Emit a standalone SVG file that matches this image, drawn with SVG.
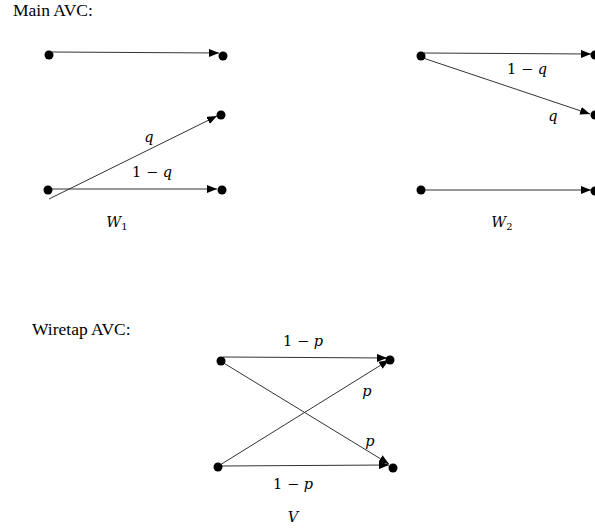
<svg xmlns="http://www.w3.org/2000/svg" width="595" height="531" viewBox="0 0 595 531">
<style>
.title{font-family:"Liberation Serif",serif;font-size:17.5px;fill:#000}
.m{font-family:"DejaVu Serif","Liberation Serif",serif;font-style:italic;font-size:14.5px;fill:#000;text-anchor:middle}
.mu{font-family:"DejaVu Serif","Liberation Serif",serif;font-size:14.5px;fill:#000;text-anchor:middle}
.e{stroke:#333;stroke-width:1;fill:none;marker-end:url(#ah)}
.d{fill:#000}
</style>
<defs>
<marker id="ah" viewBox="0 0 10 8" refX="10" refY="4" markerWidth="10" markerHeight="8" markerUnits="userSpaceOnUse" orient="auto">
<path d="M0,0 L10,4 L0,8 Z" fill="#000"/>
</marker>
</defs>
<rect width="595" height="531" fill="#fff"/>
<text class="title" x="13" y="16">Main AVC:</text>
<text class="title" x="32" y="335">Wiretap AVC:</text>
<g id="connectors">
<line class="e" x1="52" y1="52" x2="219" y2="53"/>
<line class="e" x1="49" y1="199" x2="217" y2="116"/>
<line class="e" x1="50" y1="189" x2="217" y2="189"/>
<line class="e" x1="424" y1="53" x2="591" y2="54"/>
<line class="e" x1="423" y1="58" x2="590" y2="114"/>
<line class="e" x1="424" y1="190" x2="591" y2="190"/>
<line class="e" x1="223" y1="357" x2="387" y2="358"/>
<line class="e" x1="222" y1="362" x2="389" y2="464"/>
<line class="e" x1="220" y1="465" x2="389" y2="360"/>
<line class="e" x1="221" y1="466" x2="389" y2="465"/>
</g>
<g id="w1-in0"><circle class="d" cx="49" cy="55" r="4.5"/></g>
<g id="w1-out0"><circle class="d" cx="223" cy="56" r="4.5"/></g>
<g id="w1-out1"><circle class="d" cx="221" cy="115" r="4.5"/></g>
<g id="w1-in1"><circle class="d" cx="48" cy="190" r="4.5"/></g>
<g id="w1-out2"><circle class="d" cx="222" cy="190" r="4.5"/></g>
<g id="w2-in0"><circle class="d" cx="421" cy="56" r="4.5"/></g>
<g id="w2-out0"><circle class="d" cx="595" cy="55" r="4.5"/></g>
<g id="w2-out1"><circle class="d" cx="595" cy="115" r="4.5"/></g>
<g id="w2-in1"><circle class="d" cx="421" cy="190" r="4.5"/></g>
<g id="w2-out2"><circle class="d" cx="595" cy="191" r="4.5"/></g>
<g id="v-in0"><circle class="d" cx="221" cy="361" r="4.5"/></g>
<g id="v-out0"><circle class="d" cx="390" cy="360" r="4.5"/></g>
<g id="v-in1"><circle class="d" cx="218" cy="467" r="4.5"/></g>
<g id="v-out1"><circle class="d" cx="393" cy="468" r="4.5"/></g>
<g id="labels">
<text class="m" x="149" y="142">q</text>
<text class="mu" x="152" y="177">1 − <tspan font-style="italic">q</tspan></text>
<text class="m" x="117" y="227">W<tspan font-size="10" font-style="normal" dy="3">1</tspan></text>
<text class="mu" x="527" y="74">1 − <tspan font-style="italic">q</tspan></text>
<text class="m" x="553" y="121">q</text>
<text class="m" x="502" y="227">W<tspan font-size="10" font-style="normal" dy="3">2</tspan></text>
<text class="mu" x="303" y="346">1 − <tspan font-style="italic">p</tspan></text>
<text class="m" x="367" y="396">p</text>
<text class="m" x="370" y="446">p</text>
<text class="mu" x="293" y="489">1 − <tspan font-style="italic">p</tspan></text>
<text class="m" x="293" y="522">V</text>
</g>
</svg>
